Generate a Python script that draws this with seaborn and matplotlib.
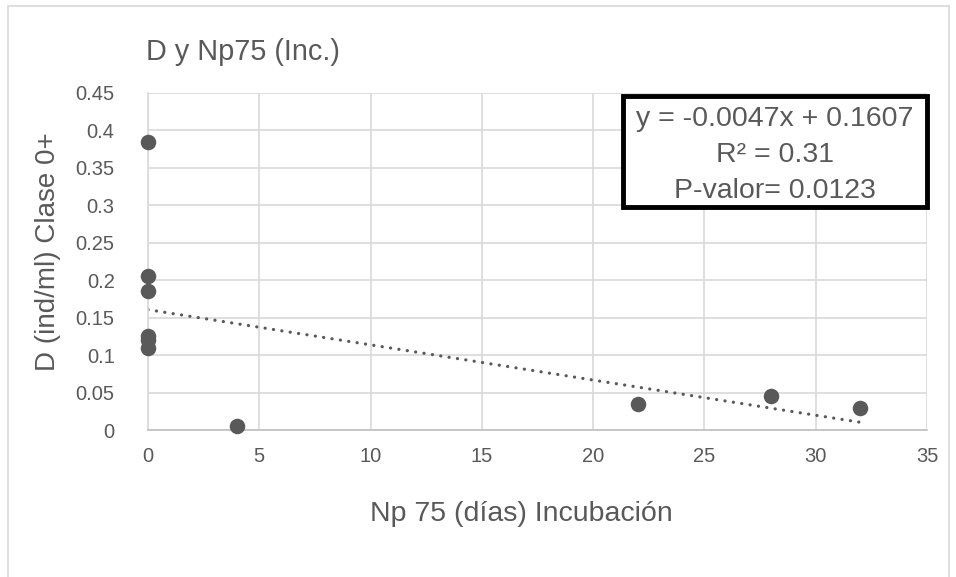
import matplotlib
matplotlib.use("Agg")
import matplotlib.pyplot as plt
from matplotlib.lines import Line2D
from matplotlib.ticker import FuncFormatter, MultipleLocator
import seaborn as sns
import pandas as pd
import numpy as np

# ---- data ----
np75_dias = [0, 0, 0, 0, 0, 0, 4, 22, 28, 32]
d_clase0 = [0.385, 0.205, 0.185, 0.125, 0.12, 0.11, 0.005, 0.035, 0.045, 0.03]
trend_slope = -0.0047
trend_intercept = 0.1607
trend_x = [0, 32]
title_text = "D y Np75 (Inc.)"
xlabel_text = "Np 75 (días) Incubación"
ylabel_text = "D (ind/ml) Clase 0+"
box_lines = ["y = -0.0047x + 0.1607", "R² = 0.31", "P-valor= 0.0123"]

sns.set_theme(style="white")
plt.rcParams['font.family'] = ['Liberation Sans', 'DejaVu Sans']

W, H = 956, 577
fig = plt.figure(figsize=(W / 100, H / 100), dpi=100)
ax = fig.add_axes([148 / W, 1 - 430 / H, (927 - 148) / W, (430 - 93) / H])

grey = "#595959"
gridc = "#d9d9d9"

df = pd.DataFrame({"x": np75_dias, "y": d_clase0})
tdf = pd.DataFrame({"x": trend_x,
                    "y": [trend_slope * v + trend_intercept for v in trend_x]})

sns.lineplot(data=tdf, x="x", y="y", ax=ax, color=grey, lw=2.3,
             linestyle=(0, (0.05, 2.6)), dash_capstyle="round", zorder=2)
sns.scatterplot(data=df, x="x", y="y", ax=ax, color=grey, s=125,
                edgecolor=grey, linewidth=0, zorder=3, clip_on=False)

ax.set_xlim(0, 35)
ax.set_ylim(0, 0.45)
ax.xaxis.set_major_locator(MultipleLocator(5))
ax.yaxis.set_major_locator(MultipleLocator(0.05))
ax.yaxis.set_major_formatter(FuncFormatter(lambda v, p: f"{round(v, 2):g}"))
ax.xaxis.set_major_formatter(FuncFormatter(lambda v, p: f"{int(round(v))}"))
ax.grid(True, color=gridc, lw=1.2)
ax.set_axisbelow(True)
for s in ["top", "right"]:
    ax.spines[s].set_visible(False)
ax.spines["left"].set_color(gridc)
ax.spines["bottom"].set_color("#bfbfbf")
ax.spines["left"].set_linewidth(1.2)
ax.spines["bottom"].set_linewidth(1.2)
ax.tick_params(axis="both", length=0, labelsize=14.5, labelcolor=grey)
ax.tick_params(axis="y", pad=24)
ax.tick_params(axis="x", pad=12)

ax.set_xlabel("")
ax.set_ylabel("")
fig.text(521 / W, 1 - 514 / H, xlabel_text, fontsize=20.5, color=grey,
         ha="center", va="center")
fig.text(48 / W, 1 - 252 / H, ylabel_text, fontsize=20, color=grey,
         ha="center", va="center", rotation=90)

fig.text(146 / W, 1 - 52 / H, title_text, fontsize=20.8, color=grey,
         ha="left", va="center")

# equation box
bx0, by0, bx1, by1 = 623, 96, 927, 207
rect = plt.Rectangle((bx0 / W, 1 - by1 / H), (bx1 - bx0) / W, (by1 - by0) / H,
                     transform=fig.transFigure, facecolor="white",
                     edgecolor="black", lw=3.5, zorder=5)
fig.patches.append(rect)
cx = (bx0 + bx1) / 2 / W
for i, t in enumerate(box_lines):
    fig.text(cx, 1 - (119 + 36 * i) / H, t, fontsize=20.5, color=grey,
             ha="center", va="center", zorder=6)

# outer chart border
for xs, ys in [([8, 8], [6, 577]), ([8, 949], [6, 6]), ([949, 949], [6, 577])]:
    fig.add_artist(Line2D([x / W for x in xs], [1 - y / H for y in ys],
                          transform=fig.transFigure, color=gridc, lw=1.2))

fig.savefig("out.png", dpi=100)
